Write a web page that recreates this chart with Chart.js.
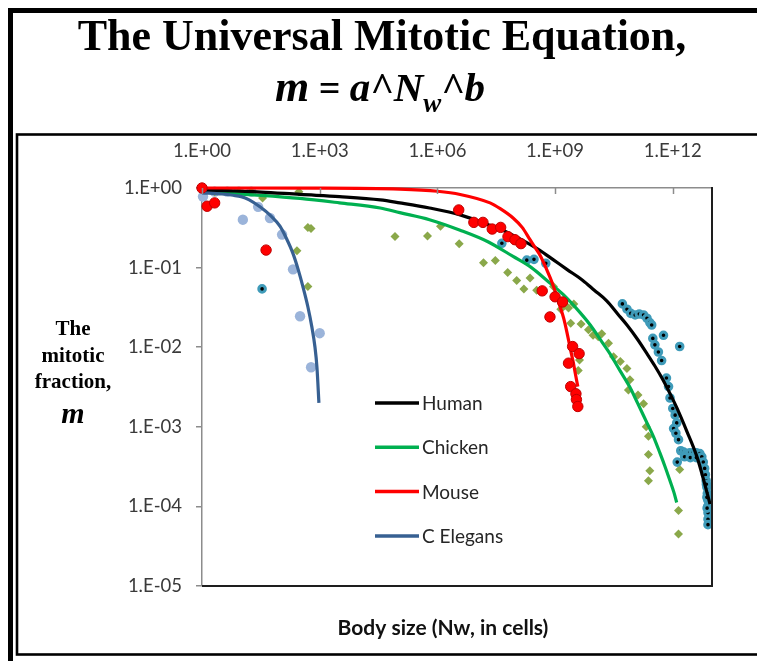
<!DOCTYPE html>
<html>
<head>
<meta charset="utf-8">
<script src="https://cdn.jsdelivr.net/npm/chart.js@4"></script>
<style>
  html, body { margin: 0; padding: 0; background: #fff; overflow: hidden; }
  #wrap { position: relative; width: 757px; height: 661px; }
</style>
</head>
<body>
<div id="wrap"><canvas id="c" width="757" height="661"></canvas></div>
<script>
// ---- axis ticks ----
const xTickValues = [1, 1e3, 1e6, 1e9, 1e12];
const xTickLabels = ["1.E+00", "1.E+03", "1.E+06", "1.E+09", "1.E+12"];
const yTickValues = [1, 1e-1, 1e-2, 1e-3, 1e-4, 1e-5];
const yTickLabels = ["1.E+00", "1.E-01", "1.E-02", "1.E-03", "1.E-04", "1.E-05"];
const seriesNames = ["Human", "Chicken", "Mouse", "C Elegans"];

// ---- fitted curves (body size N in cells, mitotic fraction m) ----
const humanFitN = [1, 32, 316, 3.2e3, 3.5e4, 1.1e5, 6.3e5, 3.8e6, 2.2e7, 6.3e7, 1.5e8, 4.0e8, 8.9e8, 2.0e9, 5.1e9,
  1.0e10, 2.1e10, 4.0e10, 6.8e10, 1.26e11, 2.2e11, 3.5e11, 5.6e11, 8.9e11, 1.29e12, 2.3e12, 4.2e12, 5.9e12, 8.9e12];
const humanFitM = [0.94, 0.89, 0.83, 0.78, 0.71, 0.65, 0.56, 0.46, 0.34, 0.275, 0.22, 0.166, 0.126, 0.095, 0.069,
  0.052, 0.038, 0.026, 0.019, 0.0126, 0.0083, 0.0058, 0.0039, 0.0025, 0.0017, 8.7e-4, 4.1e-4, 2.3e-4, 1.07e-4];

const chickenFitN = [1, 32, 316, 3.2e3, 3.5e4, 1.1e5, 6.3e5, 3.8e6, 2.0e7, 8.5e7, 2.5e8, 6.2e8, 1.6e9, 4.4e9,
  7.9e9, 1.4e10, 2.5e10, 4.6e10, 7.9e10, 1.26e11, 2.2e11, 3.2e11, 4.7e11, 6.3e11, 8.5e11, 1.07e12, 1.26e12];
const chickenFitM = [0.90, 0.81, 0.74, 0.65, 0.56, 0.49, 0.40, 0.295, 0.21, 0.138, 0.10, 0.069, 0.046, 0.027,
  0.019, 0.0126, 0.0083, 0.005, 0.0032, 0.002, 0.00112, 7.6e-4, 4.7e-4, 3.2e-4, 2.1e-4, 1.5e-4, 1.12e-4];

const mouseFitN = [1, 1e3, 1.1e5, 1e6, 3.8e6, 2.2e7, 4.0e7, 8.5e7, 1.45e8, 2.3e8, 3.2e8, 4.2e8, 6.2e8, 8.3e8,
  1.1e9, 1.35e9, 1.66e9, 2.0e9, 2.4e9, 2.9e9, 3.3e9, 3.8e9];
const mouseFitM = [1.0, 0.997, 0.968, 0.91, 0.83, 0.65, 0.55, 0.42, 0.32, 0.224, 0.174, 0.141, 0.093, 0.066,
  0.044, 0.032, 0.023, 0.0155, 0.010, 0.0065, 0.0046, 0.0032];

const elegansFitN = [1, 3.2, 6.2, 10, 16, 30, 56, 98, 141, 209, 282, 372, 501, 631, 759, 851, 955];
const elegansFitM = [0.87, 0.84, 0.81, 0.78, 0.71, 0.58, 0.45, 0.33, 0.234, 0.15, 0.095, 0.058, 0.032, 0.018, 0.01, 0.0056, 0.002];

// ---- measured points ----
const humanObsN = [34, 4.4e7, 1.9e8, 2.9e8, 5.8e8,
  5.2e10, 6.8e10, 8.5e10, 1.1e11, 1.4e11, 1.8e11, 2.2e11, 2.6e11, 2.9e11,
  3.1e11, 3.5e11, 4.3e11, 5.2e11, 5.8e11, 1.5e12,
  6.9e11, 7.8e11, 8.5e11, 1.0e12, 1.15e12, 1.26e12, 1.05e12, 1.2e12, 1.4e12, 1.3e12,
  1.6e12, 1.9e12, 2.2e12, 2.7e12, 3.3e12, 4.0e12, 4.9e12, 2.0e12, 2.8e12, 4.0e12,
  5.5e12, 6.0e12, 6.5e12, 6.8e12, 7.1e12, 7.4e12, 7.6e12, 7.8e12, 7.8e12, 7.9e12, 7.9e12, 7.9e12,
  7.2e12, 7.4e12, 7.5e12];
const humanObsM = [0.054, 0.202, 0.124, 0.127, 0.113,
  0.035, 0.030, 0.0266, 0.0254, 0.0261, 0.0254, 0.0231, 0.0204, 0.019,
  0.0129, 0.0107, 0.0087, 0.0068, 0.0141, 0.0102,
  0.0041, 0.0032, 0.0023, 0.0017, 0.0014, 0.00112, 0.00095, 0.00083, 0.00069, 0.00036,
  0.0005, 0.00048, 0.00046, 0.00047, 0.00047, 0.00047, 0.00046, 0.00042, 0.00041, 0.00041,
  0.00042, 0.00036, 0.0003, 0.00025, 0.00021, 0.000174, 0.000145, 0.00012, 0.0001, 0.000083, 0.000069, 0.000059,
  0.00019, 0.00013, 0.000095];

const chickenObsN = [2.1, 4.4, 8.7, 18, 35, 295, 263, 500, 600, 500,
  8.3e4, 5.6e5, 1.2e6, 3.6e6, 1.5e7, 3.0e7, 6.2e7, 1.05e8, 2.3e8, 1.6e8, 3.4e8, 9.1e8,
  1.4e9, 1.8e9, 2.2e9, 3.0e9, 2.5e9, 4.6e9, 7.1e9, 9.3e9, 1.26e10, 1.55e10, 4.2e9, 3.9e9,
  2.3e10, 3.1e10, 4.6e10, 6.8e10, 8.1e10, 7.4e10, 1.3e11, 1.8e11,
  2.1e11, 2.4e11, 2.4e11, 2.6e11, 2.4e11, 1.5e12, 1.4e12, 1.4e12];
const chickenObsM = [0.9, 0.9, 0.9, 0.9, 0.75, 0.9, 0.163, 0.32, 0.31, 0.058,
  0.245, 0.25, 0.33, 0.20, 0.115, 0.123, 0.087, 0.069, 0.074, 0.054, 0.052, 0.058,
  0.030, 0.034, 0.031, 0.035, 0.020, 0.0195, 0.0166, 0.0141, 0.0135, 0.0148, 0.0069, 0.0051,
  0.0112, 0.0076, 0.0066, 0.0054, 0.0039, 0.0029, 0.0025, 0.00195,
  0.001, 0.00076, 0.00045, 0.00028, 0.00021, 0.00029, 0.000089, 0.000045];

const mouseObsN = [1, 1.35, 2.1, 43, 3.5e6, 8.5e6, 1.45e7, 2.5e7, 4.1e7, 6.3e7, 9.5e7, 1.35e8,
  4.7e8, 1.0e9, 1.55e9, 7.4e8, 2.8e9, 4.1e9, 2.2e9, 2.5e9, 3.4e9, 3.5e9, 3.8e9];
const mouseObsM = [1.0, 0.59, 0.65, 0.166, 0.53, 0.37, 0.37, 0.305, 0.32, 0.245, 0.224, 0.20,
  0.051, 0.043, 0.037, 0.024, 0.0102, 0.0083, 0.0063, 0.0032, 0.0026, 0.0022, 0.0018];

const elegansObsN = [1.06, 2.1, 4.4, 8.7, 18, 11, 27, 54, 110, 209, 316, 1000, 603];
const elegansObsM = [0.78, 0.9, 0.9, 0.9, 0.9, 0.40, 0.58, 0.42, 0.26, 0.095, 0.0245, 0.015, 0.0056];

// ---- colours ----
const colHuman = '#000000';
const colChicken = '#00b050';
const colMouse = '#ff0000';
const colElegans = '#376092';

function pairs(xs, ys) { return xs.map((x, i) => ({ x: x, y: ys[i] })); }

function fitLine(label, xs, ys, color, order) {
  return {
    label: label, fit: true, data: pairs(xs, ys), showLine: true,
    borderColor: color, backgroundColor: color, borderWidth: 3.2,
    pointRadius: 0, cubicInterpolationMode: 'monotone', order: order, clip: false
  };
}

const datasets = [
  { label: 'C Elegans data', data: pairs(elegansObsN, elegansObsM), pointStyle: 'circle',
    pointRadius: 5.2, pointBackgroundColor: '#9bb4da', pointBorderWidth: 0, order: 8, clip: false },
  { label: 'Chicken data', data: pairs(chickenObsN, chickenObsM), pointStyle: 'rectRot',
    pointRadius: 4.5, pointBackgroundColor: '#8aa84a', pointBorderWidth: 0, order: 7, clip: false },
  { label: 'Human data', data: pairs(humanObsN, humanObsM), pointStyle: 'circle',
    pointRadius: 3.3, pointBackgroundColor: '#000000', pointBorderColor: '#3f9bb9', pointBorderWidth: 3, order: 6, clip: false },
  fitLine('Chicken', chickenFitN, chickenFitM, colChicken, 5),
  fitLine('Human', humanFitN, humanFitM, colHuman, 4),
  fitLine('C Elegans', elegansFitN, elegansFitM, colElegans, 3),
  fitLine('Mouse', mouseFitN, mouseFitM, colMouse, 2),
  { label: 'Mouse data', data: pairs(mouseObsN, mouseObsM), pointStyle: 'circle',
    pointRadius: 5.2, pointBackgroundColor: '#ff0000', pointBorderColor: '#c00000', pointBorderWidth: 1, order: 1, clip: false }
];

const tickFont = { family: 'Lato', size: 18.5 };
const axisGrey = '#8c8c8c';

// frames, titles, axis caption, in-plot legend and inner tick marks
const decor = {
  id: 'decor',
  beforeDraw(chart) {
    const ctx = chart.ctx;
    ctx.save();
    ctx.fillStyle = '#ffffff';
    ctx.fillRect(0, 0, chart.width, chart.height);
    ctx.strokeStyle = '#000';
    ctx.lineWidth = 5;
    ctx.strokeRect(10.5, 10.5, 820, 720);
    ctx.lineWidth = 2.6;
    ctx.strokeRect(17, 134.5, 820, 520);
    ctx.restore();
  },
  afterDraw(chart) {
    const ctx = chart.ctx;
    const a = chart.chartArea;
    ctx.save();

    // inward tick marks on the top axis
    const xs = chart.scales.x;
    ctx.strokeStyle = axisGrey;
    ctx.lineWidth = 1.5;
    xTickValues.forEach(v => {
      const px = Math.round(xs.getPixelForValue(v)) + 0.5;
      ctx.beginPath(); ctx.moveTo(px, a.top); ctx.lineTo(px, a.top + 6); ctx.stroke();
    });

    // right and bottom border of the plot area
    ctx.strokeStyle = '#1e1e1e';
    ctx.lineWidth = 2;
    ctx.beginPath();
    ctx.moveTo(a.right, a.top - 1);
    ctx.lineTo(a.right, a.bottom);
    ctx.lineTo(a.left, a.bottom);
    ctx.stroke();

    // title
    ctx.fillStyle = '#000';
    ctx.textBaseline = 'alphabetic';
    ctx.textAlign = 'center';
    ctx.font = 'bold 44px "Liberation Serif"';
    ctx.fillText('The Universal Mitotic Equation,', 382, 50);

    // equation line: m = a^N_w^b
    const parts = [
      { t: 'm', f: 'bold italic 44px "Liberation Serif"', dy: 0 },
      { t: ' = ', f: 'bold italic 38px "Liberation Serif"', dy: 0 },
      { t: 'a^N', f: 'bold italic 41px "Liberation Serif"', dy: 0 },
      { t: 'w', f: 'bold italic 27px "Liberation Serif"', dy: 11 },
      { t: '^b', f: 'bold italic 41px "Liberation Serif"', dy: 0 }
    ];
    let total = 0;
    parts.forEach(p => { ctx.font = p.f; p.w = ctx.measureText(p.t).width; total += p.w; });
    let x = 380 - total / 2;
    ctx.textAlign = 'left';
    parts.forEach(p => { ctx.font = p.f; ctx.fillText(p.t, x, 101 + p.dy); x += p.w; });

    // y axis caption
    ctx.textAlign = 'center';
    ctx.font = 'bold 21px "Liberation Serif"';
    ctx.fillText('The', 73, 335);
    ctx.fillText('mitotic', 73, 362);
    ctx.fillText('fraction,', 73, 388);
    ctx.font = 'bold italic 30px "Liberation Serif"';
    ctx.fillText('m', 73, 423);

    // x axis caption
    ctx.font = 'bold 21px Lato';
    ctx.fillStyle = '#111';
    ctx.fillText('Body size (Nw, in cells)', 443, 635);

    // legend inside the plot
    ctx.textAlign = 'left';
    ctx.textBaseline = 'middle';
    ctx.font = '19px Lato';
    seriesNames.forEach((name, i) => {
      const ds = chart.data.datasets.find(d => d.fit && d.label === name);
      const y = 403 + i * 44.3;
      ctx.strokeStyle = ds.borderColor;
      ctx.lineWidth = 3.5;
      ctx.beginPath(); ctx.moveTo(375, y); ctx.lineTo(419, y); ctx.stroke();
      ctx.fillStyle = '#262626';
      ctx.fillText(name, 422, y + 1);
    });
    ctx.restore();
  }
};

new Chart(document.getElementById('c'), {
  type: 'scatter',
  data: { datasets: datasets },
  options: {
    responsive: false,
    animation: false,
    devicePixelRatio: 1,
    events: [],
    layout: { padding: { left: 102, top: 128, right: 45, bottom: 75 } },
    plugins: { legend: { display: false }, tooltip: { enabled: false }, title: { display: false } },
    scales: {
      x: {
        type: 'logarithmic', position: 'top', min: 1, max: 1e13,
        afterBuildTicks: s => { s.ticks = xTickValues.map(v => ({ value: v })); },
        afterFit: s => { s.height = 60; },
        ticks: { autoSkip: false, maxRotation: 0, minRotation: 0, padding: 18, color: '#3a3a3a', font: tickFont,
                 callback: (v, i) => xTickLabels[i] },
        grid: { display: false },
        border: { display: true, color: axisGrey, width: 1.5 }
      },
      y: {
        type: 'logarithmic', position: 'left', min: 1e-5, max: 1,
        afterBuildTicks: s => { s.ticks = yTickValues.map(v => ({ value: v })); },
        afterFit: s => { s.width = 100; },
        ticks: { autoSkip: false, padding: 14, color: '#3a3a3a', font: tickFont,
                 callback: (v, i) => yTickLabels[i] },
        grid: { display: true, drawOnChartArea: false, drawTicks: true, tickLength: 6, color: axisGrey, lineWidth: 1.5 },
        border: { display: true, color: axisGrey, width: 1.5 }
      }
    }
  },
  plugins: [decor]
});
</script>
</body>
</html>
